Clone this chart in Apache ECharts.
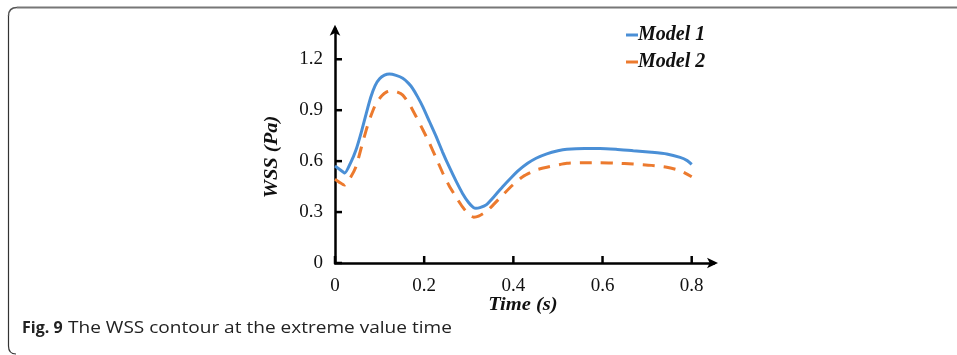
<!DOCTYPE html>
<html>
<head>
<meta charset="utf-8">
<script src="https://cdn.jsdelivr.net/npm/echarts@6/dist/echarts.min.js"></script>
<style>
html,body{margin:0;padding:0;background:#fff;}
#chart{width:957px;height:355px;}
</style>
</head>
<body>
<div id="chart"></div>
<script>
// ---- data ----
var seriesNames = ['Model 1', 'Model 2'];
var timeModel1 = [0, 0.010, 0.022, 0.035, 0.047, 0.060, 0.070, 0.080, 0.090, 0.100, 0.111, 0.122, 0.137, 0.152, 0.165, 0.174, 0.185, 0.197, 0.212, 0.227, 0.241, 0.256, 0.271, 0.286, 0.300, 0.310, 0.316, 0.325, 0.339, 0.357, 0.376, 0.395, 0.413, 0.432, 0.451, 0.475, 0.500, 0.520, 0.560, 0.594, 0.630, 0.669, 0.710, 0.744, 0.774, 0.790, 0.800];
var wssModel1  = [0.571, 0.552, 0.530, 0.590, 0.665, 0.780, 0.880, 0.975, 1.045, 1.085, 1.106, 1.113, 1.105, 1.088, 1.058, 1.029, 0.980, 0.920, 0.832, 0.744, 0.655, 0.567, 0.485, 0.410, 0.355, 0.328, 0.322, 0.326, 0.342, 0.392, 0.449, 0.502, 0.548, 0.587, 0.617, 0.643, 0.661, 0.670, 0.675, 0.675, 0.670, 0.661, 0.652, 0.642, 0.622, 0.603, 0.581];
var timeModel2 = [0, 0.010, 0.021, 0.034, 0.047, 0.058, 0.070, 0.081, 0.092, 0.105, 0.116, 0.126, 0.140, 0.152, 0.167, 0.182, 0.197, 0.212, 0.227, 0.242, 0.256, 0.271, 0.286, 0.301, 0.311, 0.322, 0.339, 0.357, 0.376, 0.398, 0.421, 0.451, 0.475, 0.520, 0.560, 0.594, 0.630, 0.669, 0.710, 0.744, 0.775, 0.800];
var wssModel2  = [0.493, 0.475, 0.459, 0.500, 0.567, 0.670, 0.783, 0.870, 0.940, 0.985, 1.008, 1.015, 1.007, 0.989, 0.935, 0.862, 0.785, 0.705, 0.617, 0.528, 0.455, 0.390, 0.330, 0.283, 0.270, 0.276, 0.302, 0.348, 0.400, 0.458, 0.508, 0.548, 0.564, 0.587, 0.591, 0.591, 0.588, 0.583, 0.575, 0.564, 0.543, 0.508];
var xTicks = [0, 0.2, 0.4, 0.6, 0.8];
var yTicks = [0, 0.3, 0.6, 0.9, 1.2];
var xTitle = 'Time (s)';
var yTitle = 'WSS (Pa)';
var captionBold = 'Fig. 9';
var captionText = 'The WSS contour at the extreme value time';

function pairs(xs, ys){ var out=[]; for(var i=0;i<xs.length;i++){ out.push([xs[i], ys[i]]); } return out; }

var chart = echarts.init(document.getElementById('chart'), null, {renderer:'canvas'});
var serif = '"Liberation Serif", "DejaVu Serif", serif';
var sans = '"Open Sans", "Noto Sans", sans-serif';

function tickSeries(values, horizontal){
  return {
    type: 'custom', silent: true, clip: false, z: 10,
    data: values.map(function(v){ return horizontal ? [0, v] : [v, 0]; }),
    encode: { x: 0, y: 1 },
    renderItem: function(params, api){
      var p = api.coord([api.value(0), api.value(1)]);
      var shape = horizontal ? { x1: p[0], y1: p[1], x2: p[0] + 7, y2: p[1] }
                             : { x1: p[0], y1: p[1], x2: p[0], y2: p[1] - 7 };
      return { type: 'line', shape: shape, style: { stroke: '#000', lineWidth: 2.5 } };
    }
  };
}

var option = {
  backgroundColor: '#ffffff',
  animation: false,
  grid: { left: 335, top: 28.7, bottom: 92, width: 379, containLabel: false },
  legend: {
    orient: 'vertical', left: 621, top: 20, itemGap: 7,
    icon: 'rect', itemWidth: 12, itemHeight: 3,
    textStyle: { fontFamily: serif, fontStyle: 'italic', fontWeight: 'bold', fontSize: 20, color: '#111', padding: [0,0,0,-5], lineHeight: 20 },
    data: seriesNames
  },
  xAxis: {
    type: 'value', min: 0, max: 0.85, interval: 0.2,
    axisLine: { show: true, symbol: ['none', 'arrow'], symbolSize: [8, 11], symbolOffset: [0, 4], lineStyle: { color: '#000', width: 2.5 } },
    axisTick: { show: false },
    axisLabel: { showMaxLabel: false, margin: 14, fontFamily: serif, fontSize: 19, color: '#111', formatter: function(v){ return String(Math.round(v*10)/10); } },
    splitLine: { show: false }
  },
  yAxis: {
    type: 'value', min: 0, max: 1.38, interval: 0.3,
    axisLine: { show: true, symbol: ['none', 'arrow'], symbolSize: [8, 11], symbolOffset: [0, 4], lineStyle: { color: '#000', width: 2.5 } },
    axisTick: { show: false },
    axisLabel: { showMaxLabel: false, margin: 12, fontFamily: serif, fontSize: 19, color: '#111', formatter: function(v){ return String(Math.round(v*10)/10); } },
    splitLine: { show: false }
  },
  series: [
    { name: seriesNames[0], type: 'line', data: pairs(timeModel1, wssModel1), smooth: 0.2, showSymbol: false, symbol: 'none',
      lineStyle: { color: '#4a8fd6', width: 3 }, itemStyle: { color: '#4a8fd6' } },
    { name: seriesNames[1], type: 'line', data: pairs(timeModel2, wssModel2), smooth: 0.2, showSymbol: false, symbol: 'none',
      lineStyle: { color: '#ec7a2e', width: 3, type: [12, 9] }, itemStyle: { color: '#ec7a2e' } },
    tickSeries(xTicks, false),
    tickSeries(yTicks, true)
  ],
  graphic: [
    { type: 'line', silent: true, shape: { x1: 957, y1: 7.5, x2: 17, y2: 7.5 }, style: { stroke: '#777', lineWidth: 2 } },
    { type: 'bezierCurve', silent: true, shape: { x1: 17, y1: 7.5, cpx1: 8.5, cpy1: 7.5, x2: 8.5, y2: 16 }, style: { fill: null, stroke: '#555', lineWidth: 1.5 } },
    { type: 'line', silent: true, shape: { x1: 8.5, y1: 16, x2: 8.5, y2: 346 }, style: { stroke: '#333', lineWidth: 1.2 } },
    { type: 'bezierCurve', silent: true, shape: { x1: 8.5, y1: 346, cpx1: 8.5, cpy1: 354, x2: 16, y2: 354 }, style: { fill: null, stroke: '#333', lineWidth: 1.2 } },
    { type: 'text', x: 523, y: 305, scaleX: 1.08, silent: true,
      style: { text: xTitle, fontFamily: serif, fontStyle: 'italic', fontWeight: 'bold', fontSize: 19, fill: '#111', align: 'center', verticalAlign: 'middle' } },
    { type: 'text', x: 272, y: 157, rotation: Math.PI/2, scaleX: 1.08, silent: true,
      style: { text: yTitle, fontFamily: serif, fontStyle: 'italic', fontWeight: 'bold', fontSize: 19, fill: '#111', align: 'center', verticalAlign: 'middle' } },
    { type: 'text', x: 22, y: 328, silent: true,
      style: { text: captionBold, fontFamily: sans, fontWeight: 'bold', fontSize: 16, fill: '#222', verticalAlign: 'middle' } },
    { type: 'text', x: 68, y: 328, scaleX: 1.12, silent: true,
      style: { text: captionText, fontFamily: sans, fontSize: 17, fill: '#222', verticalAlign: 'middle' } }
  ]
};
chart.setOption(option);
</script>
</body>
</html>
